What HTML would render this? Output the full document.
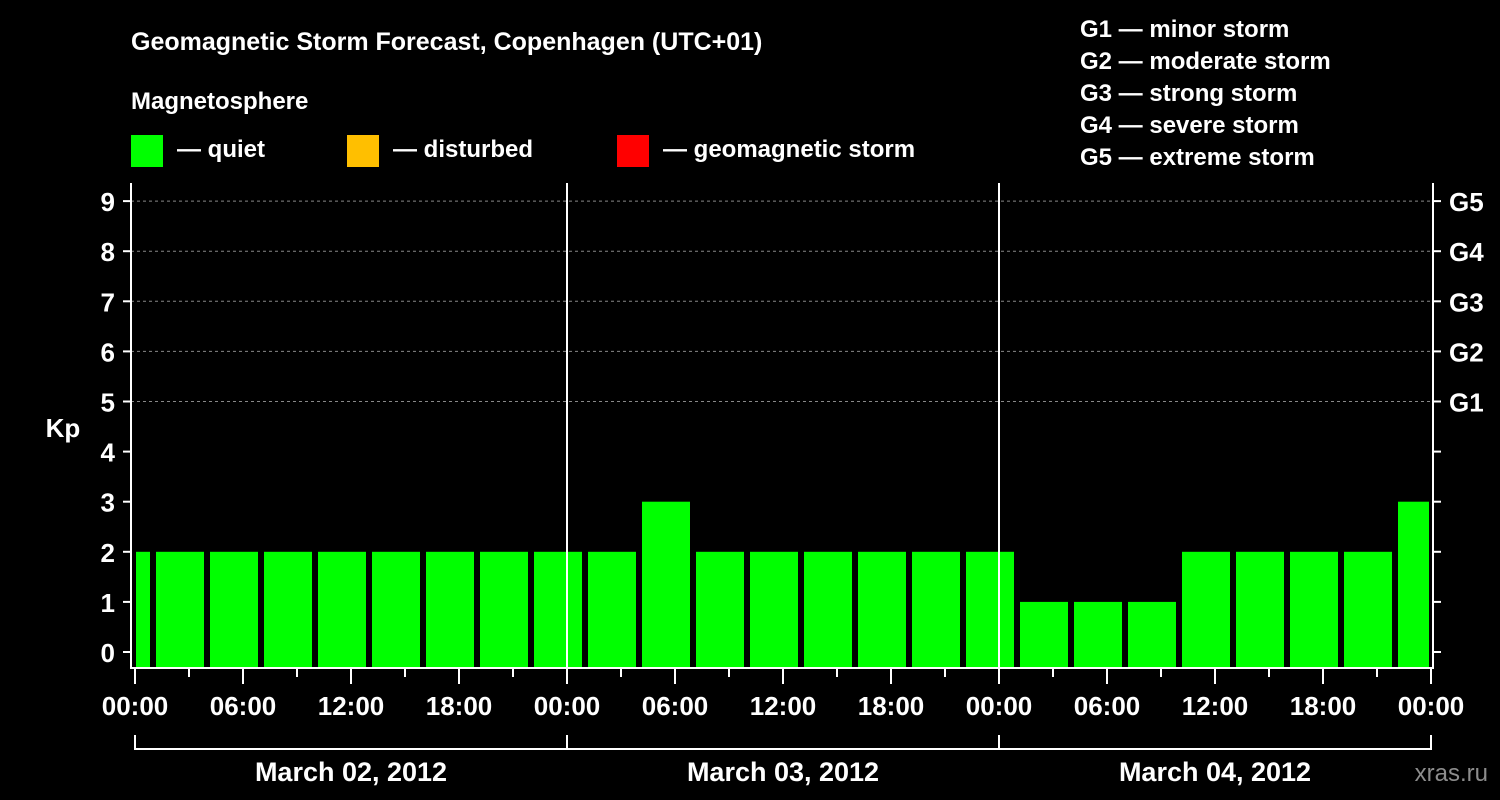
<!DOCTYPE html>
<html><head><meta charset="utf-8"><style>
body{margin:0;background:#000;width:1500px;height:800px;overflow:hidden}
svg{display:block}
text{font-family:"Liberation Sans",sans-serif;font-weight:bold;fill:#fff}
</style></head><body>
<svg id="c" width="1500" height="800">
<text x="131" y="50" font-size="25">Geomagnetic Storm Forecast, Copenhagen (UTC+01)</text>
<text x="131" y="109" font-size="24">Magnetosphere</text>
<rect x="131" y="135" width="32" height="32" fill="#00ff00"/>
<text x="177" y="157" font-size="24">— quiet</text>
<rect x="347" y="135" width="32" height="32" fill="#ffbf00"/>
<text x="393" y="157" font-size="24">— disturbed</text>
<rect x="617" y="135" width="32" height="32" fill="#ff0000"/>
<text x="663" y="157" font-size="24">— geomagnetic storm</text>
<g font-size="24">
<text x="1080" y="37">G1 — minor storm</text>
<text x="1080" y="69">G2 — moderate storm</text>
<text x="1080" y="101">G3 — strong storm</text>
<text x="1080" y="133">G4 — severe storm</text>
<text x="1080" y="165">G5 — extreme storm</text>
</g>
<text x="63" y="437" font-size="26" text-anchor="middle">Kp</text>
<text x="1488" y="781" font-size="24" text-anchor="end" fill="#888" style="fill:#8c8c8c;font-weight:normal">xras.ru</text>
<g id="grid"></g><g id="bars"></g><g id="axes"></g>
</svg>
<script>
const kpValues=[2,2,2,2,2,2,2,2,2, 2,3,2,2,2,2,2,2, 1,1,1,2,2,2,2,3];
const yTicks=[0,1,2,3,4,5,6,7,8,9];
const gLabels=["G1","G2","G3","G4","G5"];
const gLevels=[5,6,7,8,9];
const hourLabels=["00:00","06:00","12:00","18:00"];
const dayLabels=["March 02, 2012","March 03, 2012","March 04, 2012"];
const NS="http://www.w3.org/2000/svg";
const X0=135,PXH=18,L=131,R=1433,T=183,B=668;
const x=h=>X0+h*PXH;
const y=v=>652-v*50.1;
function mk(p,t,a){const e=document.createElementNS(NS,t);for(const k in a)e.setAttribute(k,a[k]);p.appendChild(e);return e;}
const grid=document.getElementById('grid'),bars=document.getElementById('bars'),axes=document.getElementById('axes');
gLevels.forEach((v,i)=>{
 const l=mk(grid,'line',{x1:L,x2:R,y1:y(v),y2:y(v),stroke:'#888','stroke-dasharray':'3,3','stroke-width':1});
 
 
 const t=mk(axes,'text',{x:1449,y:y(v)+10,'font-size':26});t.textContent=gLabels[i];
 
 
});
kpValues.forEach((v,i)=>{
 const s=-2+i*3;
 let x1=Math.max(x(s)+3,X0+1),x2=Math.min(x(s+3)-3,R-4);
 const r=mk(bars,'rect',{x:x1,y:y(v),width:x2-x1,height:B-y(v),fill:v>=5?'#ff0000':(v>=4?'#ffbf00':'#00ff00')});
 
 
});
[1,2].forEach(d=>{const l=mk(axes,'line',{x1:x(24*d),x2:x(24*d),y1:T,y2:B,stroke:'#fff','stroke-width':2});
 
 });
const fr=mk(axes,'path',{d:`M${L} ${T} V${B} H${R} V${T}`,stroke:'#fff','stroke-width':2,fill:'none'});


yTicks.forEach(v=>{
 mk(axes,'line',{x1:L-8,x2:L,y1:y(v),y2:y(v),stroke:'#fff','stroke-width':2});
 mk(axes,'line',{x1:R,x2:R+8,y1:y(v),y2:y(v),stroke:'#fff','stroke-width':2});
 const t=mk(axes,'text',{x:115,y:y(v)+10,'font-size':26,'text-anchor':'end'});t.textContent=v;
 
 
});
for(let h=0;h<=72;h+=3){
 const major=h%6===0;
 mk(axes,'line',{x1:x(h),x2:x(h),y1:B,y2:B+(major?16:9),stroke:'#fff','stroke-width':2});
 if(major){const t=mk(axes,'text',{x:x(h),y:715,'font-size':26,'text-anchor':'middle'});
  t.textContent=hourLabels[(h/6)%4];
  
  }
}
mk(axes,'path',{d:`M${x(0)} 735 V749 H${x(72)} V735 M${x(24)} 735 V749 M${x(48)} 735 V749`,stroke:'#fff','stroke-width':2,fill:'none'});
dayLabels.forEach((d,i)=>{const t=mk(axes,'text',{x:x(24*i+12),y:781,'font-size':27,'text-anchor':'middle'});t.textContent=d;
 
 });
</script>
</body></html>
